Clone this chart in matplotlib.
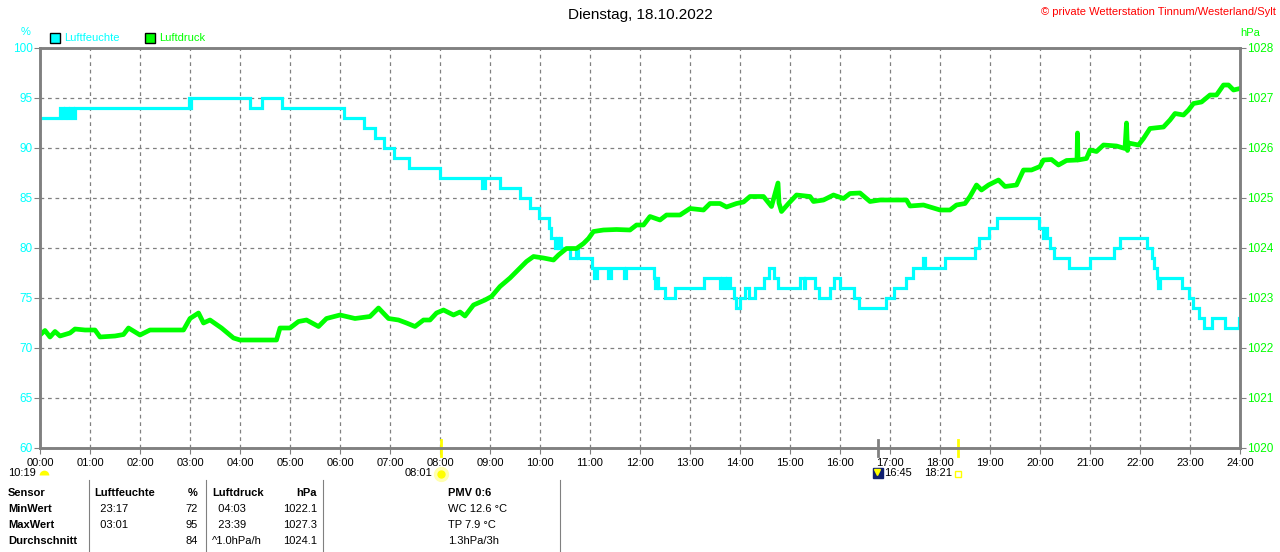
import numpy as np
import matplotlib
matplotlib.use("Agg")
import matplotlib.pyplot as plt

plt.rcParams['font.family'] = ['Liberation Sans', 'DejaVu Sans']

# Luftfeuchte in %, step points (hour, value)
hum_t = [0.00, 0.40, 0.45, 0.50, 0.55, 0.60, 0.65, 0.70, 2.98, 3.00, 3.02, 4.19, 4.43, 4.83,
         6.07, 6.47, 6.70, 6.87, 7.07, 7.37, 8.00, 8.83, 8.90, 9.20, 9.59, 9.79, 9.97, 10.17,
         10.22, 10.30, 10.33, 10.36, 10.39, 10.42, 10.60, 10.72, 10.76, 11.03, 11.08, 11.14,
         11.35, 11.41, 11.68, 11.72, 12.27, 12.30, 12.33, 12.36, 12.50, 12.70, 13.27, 13.60,
         13.63, 13.70, 13.73, 13.80, 13.88, 13.92, 14.00, 14.10, 14.17, 14.30, 14.47, 14.57,
         14.67, 14.75, 15.20, 15.27, 15.30, 15.50, 15.57, 15.80, 15.87, 16.00, 16.27, 16.37,
         16.92, 17.08, 17.33, 17.45, 17.66, 17.70, 18.10, 18.70, 18.77, 18.97, 19.13, 19.97,
         20.05, 20.08, 20.13, 20.20, 20.27, 20.57, 20.99, 21.47, 21.59, 22.13, 22.23, 22.27,
         22.33, 22.36, 22.40, 22.83, 22.97, 23.05, 23.17, 23.27, 23.43, 23.70, 23.97, 24.00]
hum_v = [93, 94, 93, 94, 93, 94, 93, 94, 95, 94, 95, 94, 95, 94,
         93, 92, 91, 90, 89, 88, 87, 86, 87, 86, 85, 84, 83, 82,
         81, 80, 81, 80, 81, 80, 79, 80, 79, 78, 77, 78,
         77, 78, 77, 78, 77, 76, 77, 76, 75, 76, 77, 76,
         77, 76, 77, 76, 75, 74, 75, 76, 75, 76, 77, 78,
         77, 76, 77, 76, 77, 76, 75, 76, 77, 76, 75, 74,
         75, 76, 77, 78, 79, 78, 79, 80, 81, 82, 83, 82,
         81, 82, 81, 80, 79, 78, 79, 80, 81, 80, 79, 78,
         77, 76, 77, 76, 75, 74, 73, 72, 73, 72, 73, 73]

# Luftdruck in hPa (hour, value)
pres_t = [0.00, 0.10, 0.20, 0.30, 0.40, 0.60, 0.70, 0.90, 1.10, 1.20, 1.50, 1.67, 1.77, 2.00,
          2.20, 2.50, 2.87, 3.00, 3.17, 3.27, 3.40, 3.63, 3.87, 4.00, 4.40, 4.73, 4.80, 5.00,
          5.17, 5.33, 5.57, 5.73, 6.00, 6.30, 6.60, 6.77, 6.97, 7.17, 7.33, 7.50, 7.67, 7.80,
          7.93, 8.07, 8.27, 8.40, 8.50, 8.67, 8.90, 9.03, 9.20, 9.40, 9.60, 9.73, 9.87, 10.07,
          10.27, 10.37, 10.53, 10.73, 10.87, 10.97, 11.07, 11.27, 11.53, 11.80, 11.93, 12.07,
          12.20, 12.40, 12.53, 12.80, 13.00, 13.27, 13.40, 13.60, 13.73, 13.93, 14.07, 14.20,
          14.47, 14.63, 14.76, 14.78, 14.83, 14.97, 15.13, 15.40, 15.47, 15.67, 15.87, 16.07,
          16.20, 16.40, 16.60, 16.80, 17.33, 17.40, 17.67, 17.87, 18.00, 18.20, 18.33, 18.50,
          18.60, 18.73, 18.83, 18.97, 19.17, 19.30, 19.53, 19.67, 19.83, 20.00, 20.07, 20.23,
          20.37, 20.53, 20.74, 20.75, 20.76, 20.93, 21.00, 21.13, 21.27, 21.53, 21.70, 21.73,
          21.75, 21.77, 21.97, 22.07, 22.20, 22.47, 22.60, 22.70, 22.87, 22.97, 23.07, 23.23,
          23.40, 23.53, 23.67, 23.77, 23.87, 24.00]
pres_v = [1022.26, 1022.35, 1022.22, 1022.33, 1022.24, 1022.30, 1022.38, 1022.36, 1022.36,
          1022.22, 1022.24, 1022.27, 1022.40, 1022.26, 1022.36, 1022.36, 1022.36, 1022.59,
          1022.70, 1022.50, 1022.56, 1022.40, 1022.20, 1022.16, 1022.16, 1022.16, 1022.40,
          1022.40, 1022.53, 1022.56, 1022.43, 1022.59, 1022.66, 1022.59, 1022.63, 1022.80,
          1022.59, 1022.56, 1022.50, 1022.43, 1022.56, 1022.56, 1022.70, 1022.76, 1022.66,
          1022.72, 1022.64, 1022.86, 1022.96, 1023.03, 1023.23, 1023.40, 1023.60, 1023.73,
          1023.83, 1023.80, 1023.76, 1023.86, 1023.99, 1023.99, 1024.09, 1024.19, 1024.33,
          1024.36, 1024.37, 1024.36, 1024.46, 1024.46, 1024.63, 1024.56, 1024.66, 1024.66,
          1024.79, 1024.76, 1024.89, 1024.89, 1024.82, 1024.89, 1024.92, 1025.03, 1025.03,
          1024.83, 1025.30, 1024.90, 1024.73, 1024.89, 1025.06, 1025.03, 1024.93, 1024.96,
          1025.06, 1024.99, 1025.09, 1025.10, 1024.93, 1024.96, 1024.96, 1024.84, 1024.86,
          1024.80, 1024.76, 1024.76, 1024.86, 1024.89, 1025.03, 1025.26, 1025.16, 1025.26,
          1025.36, 1025.23, 1025.26, 1025.56, 1025.56, 1025.63, 1025.76, 1025.77, 1025.66,
          1025.75, 1025.76, 1026.30, 1025.76, 1025.79, 1025.96, 1025.93, 1026.06, 1026.04,
          1025.99, 1026.50, 1025.95, 1026.10, 1026.06, 1026.19, 1026.39, 1026.42, 1026.56,
          1026.69, 1026.66, 1026.76, 1026.89, 1026.92, 1027.06, 1027.06, 1027.26, 1027.26,
          1027.16, 1027.19]

hour_labels = ["%02d:00" % h for h in range(25)]
hum_ticks = [60, 65, 70, 75, 80, 85, 90, 95, 100]
pres_ticks = [1020, 1021, 1022, 1023, 1024, 1025, 1026, 1027, 1028]

table_rows = [
    ("Sensor", "Luftfeuchte", "%", "Luftdruck", "hPa", "PMV 0:6"),
    ("MinWert", "  23:17", "72", "  04:03", "1022.1", "WC 12.6 °C"),
    ("MaxWert", "  03:01", "95", "  23:39", "1027.3", "TP 7.9 °C"),
    ("Durchschnitt", "", "84", "^1.0hPa/h", "1024.1", "1.3hPa/3h"),
]

CYAN = "#00ffff"
GREEN = "#00ff00"
GRAY = "#808080"
W, H = 1280, 552


def fx(x):
    return x / W


def fy(y):
    return 1 - y / H


fig = plt.figure(figsize=(12.8, 5.52), dpi=100)
ax = fig.add_axes([fx(40), fy(448), 1200 / W, 400 / H])
ax2 = ax.twinx()

ax.plot(hum_t, hum_v, drawstyle="steps-post", color=CYAN, lw=2.3, solid_joinstyle="miter")
ax2.plot(pres_t, pres_v, color=GREEN, lw=3.4)

ax.set_xlim(0, 24)
ax.set_ylim(60, 100)
ax2.set_ylim(1020, 1028)
ax.set_xticks(range(25))
ax.set_xticklabels(hour_labels)
ax.set_yticks(hum_ticks)
ax2.set_yticks(pres_ticks)
ax.grid(True, color=GRAY, ls=(0, (3, 3)), lw=0.9)

ax.tick_params(axis="x", colors=GRAY, labelcolor="black", labelsize=8, length=4, pad=3)
ax.tick_params(axis="y", colors=GRAY, labelcolor=CYAN, labelsize=8.5, length=4, pad=1)
ax2.tick_params(axis="y", colors=GRAY, labelcolor=GREEN, labelsize=8.5, length=4, pad=1)
for a in (ax, ax2):
    for s in a.spines.values():
        s.set_color(GRAY)
        s.set_linewidth(1.8)

# title and header texts
fig.text(0.5, fy(15), "Dienstag, 18.10.2022", ha="center", va="center", fontsize=11)
fig.text(fx(1276), fy(12), "© private Wetterstation Tinnum/Westerland/Sylt",
         ha="right", va="center", fontsize=8, color="red")
fig.text(fx(26), fy(32), "%", ha="center", va="center", fontsize=8, color=CYAN)
fig.text(fx(1250), fy(33), "hPa", ha="center", va="center", fontsize=8, color=GREEN)

# legend
for x0, col, lab in [(50, CYAN, "Luftfeuchte"), (145, GREEN, "Luftdruck")]:
    fig.patches.append(plt.Rectangle((fx(x0), fy(43)), 10 / W, 10 / H, transform=fig.transFigure,
                                     facecolor=col, edgecolor="black", lw=1))
    fig.text(fx(x0 + 14), fy(38), lab, ha="left", va="center", fontsize=8, color=col)

# sun / moon markers under the axis
for hh, col in [(8 + 1 / 60, "#ffff00"), (18 + 21 / 60, "#ffff00"), (16.75, GRAY)]:
    ax.plot([hh, hh], [-0.02, 0.02], transform=ax.get_xaxis_transform(), color=col,
            lw=2, clip_on=False)

fig.text(fx(36), fy(473), "10:19", ha="right", va="center", fontsize=8)
fig.lines.append(plt.Line2D([fx(44)], [fy(475)], marker="o", ms=7, fillstyle="top",
                            markerfacecolor="#ffff00", markerfacecoloralt="none",
                            markeredgewidth=0, transform=fig.transFigure))
fig.text(fx(432), fy(473), "08:01", ha="right", va="center", fontsize=8)
fig.lines.append(plt.Line2D([fx(441)], [fy(474)], marker="o", ms=10, color="#ffffb0",
                            transform=fig.transFigure))
fig.lines.append(plt.Line2D([fx(441)], [fy(474)], marker="o", ms=5, color="#ffff00",
                            transform=fig.transFigure))
fig.lines.append(plt.Line2D([fx(878)], [fy(473)], marker="s", ms=7, color="#102070",
                            transform=fig.transFigure))
fig.lines.append(plt.Line2D([fx(877)], [fy(472)], marker="v", ms=5, color="#ffff00",
                            transform=fig.transFigure))
fig.text(fx(884), fy(473), "16:45", ha="left", va="center", fontsize=8)
fig.text(fx(924), fy(473), "18:21", ha="left", va="center", fontsize=8)
fig.lines.append(plt.Line2D([fx(958)], [fy(474)], marker="s", ms=4, markerfacecolor="none",
                            markeredgecolor="#ffff00", markeredgewidth=1, transform=fig.transFigure))

# table
for x in [89, 206, 323, 560]:
    fig.lines.append(plt.Line2D([fx(x), fx(x)], [fy(480), fy(552)], color=GRAY, lw=0.8,
                                transform=fig.transFigure))
row_y = [493, 509, 525, 541]
for i, (r, y) in enumerate(zip(table_rows, row_y)):
    w = "bold" if i == 0 else "normal"
    fig.text(fx(8), fy(y), r[0], ha="left", va="center", fontsize=8, weight="bold")
    fig.text(fx(94), fy(y), r[1], ha="left", va="center", fontsize=8, weight=w)
    fig.text(fx(198), fy(y), r[2], ha="right", va="center", fontsize=8, weight=w)
    fig.text(fx(212), fy(y), r[3], ha="left", va="center", fontsize=8, weight=w)
    fig.text(fx(317), fy(y), r[4], ha="right", va="center", fontsize=8, weight=w)
    fig.text(fx(448), fy(y), r[5], ha="left", va="center", fontsize=8, weight=w)

fig.savefig("out.png", dpi=100)
